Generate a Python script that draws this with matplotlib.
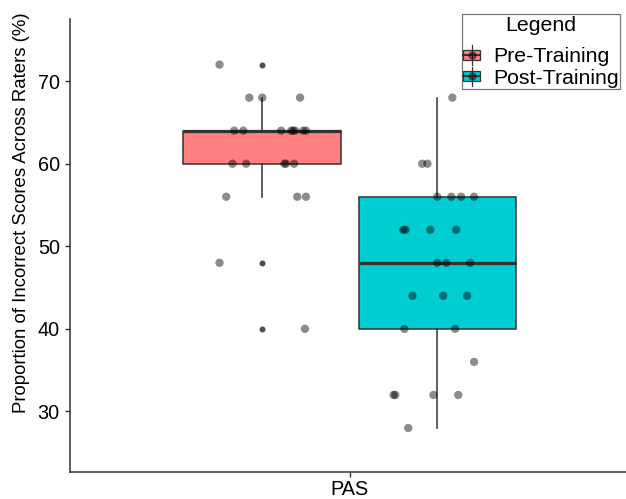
import matplotlib
matplotlib.use("Agg")
import matplotlib.pyplot as plt
from matplotlib.legend_handler import HandlerBase
from matplotlib.patches import Patch, Rectangle
from matplotlib.lines import Line2D

plt.rcParams['font.family'] = ['Liberation Sans', 'DejaVu Sans']

# ---- data ----
category = "PAS"
groups = ["Pre-Training", "Post-Training"]
colors = ["#FF8080", "#00CDD2"]

pre_values = [72, 68, 68, 68,
              64, 64, 64, 64, 64, 64, 64, 64,
              60, 60, 60, 60, 60,
              56, 56, 56, 48, 40]
pre_jitter = [-0.122, -0.037, 0.0, 0.108,
              -0.080, -0.054, 0.054, 0.083, 0.088, 0.094, 0.117, 0.125,
              -0.085, -0.046, 0.063, 0.068, 0.091,
              -0.103, 0.100, 0.125, -0.122, 0.122]

post_values = [68, 60, 60, 56, 56, 56, 56,
               52, 52, 52, 52, 48, 48, 48,
               44, 44, 44, 40, 40, 36,
               32, 32, 32, 32, 28]
post_jitter = [0.043, -0.043, -0.028, 0.0, 0.040, 0.068, 0.105,
               -0.097, -0.091, -0.020, 0.054, 0.0, 0.026, 0.094,
               -0.071, 0.017, 0.085, -0.094, 0.051, 0.105,
               -0.125, -0.120, -0.011, 0.060, -0.083]

y_ticks = [30, 40, 50, 60, 70]

# ---- layout ----
W, H = 626, 499
fig = plt.figure(figsize=(W / 100, H / 100), dpi=100)
ax = fig.add_axes([69.5 / W, 1 - 471.5 / H, 1 - 69.5 / W, (471.5 - 19) / H])

cat_pos = 1.0
dodge = 0.25
box_pos = [cat_pos - dodge, cat_pos + dodge]
box_w = 0.45
edge = "#333333"

data = [pre_values, post_values]
bp = ax.boxplot(data, positions=box_pos, widths=box_w, patch_artist=True,
                whis=1.5, showcaps=False, manage_ticks=False,
                medianprops=dict(color=edge, linewidth=2.3),
                whiskerprops=dict(color=edge, linewidth=1.1),
                boxprops=dict(edgecolor=edge, linewidth=1.1),
                flierprops=dict(marker='o', markersize=4.3,
                                markerfacecolor='#3a3a3a', markeredgecolor='none',
                                alpha=0.9),
                zorder=2)
for patch, c in zip(bp['boxes'], colors):
    patch.set_facecolor(c)

for pos, vals, jit in zip(box_pos, data, [pre_jitter, post_jitter]):
    xs = [pos + j for j in jit]
    ax.scatter(xs, vals, s=36, color='black', alpha=0.45, edgecolors='none', zorder=3)

ax.set_xlim(0.1994, 1.789)
ax.set_ylim(22.73, 77.52)
ax.set_xticks([cat_pos])
ax.set_xticklabels([category])
ax.set_yticks(y_ticks)
ax.tick_params(axis='both', labelsize=14.3, length=3.4, width=1, color=edge,
               labelcolor='black')
ax.tick_params(axis='y', pad=3.6)
ax.tick_params(axis='x', pad=2.5)
for s in ['top', 'right']:
    ax.spines[s].set_visible(False)
for s in ['left', 'bottom']:
    ax.spines[s].set_color(edge)
    ax.spines[s].set_linewidth(1.1)

ax.set_ylabel("Proportion of Incorrect Scores Across Raters (%)", fontsize=13.4)
ax.yaxis.label.set_verticalalignment('center')
ax.yaxis.set_label_coords(22 / W, 1 - 212.5 / H, transform=fig.transFigure)


class BoxHandler(HandlerBase):
    def create_artists(self, legend, orig_handle, xdescent, ydescent,
                       width, height, fontsize, trans):
        fc = orig_handle.get_facecolor()
        x0, y0 = -xdescent, -ydescent
        cx = x0 + width / 2
        vline = Line2D([cx, cx], [y0 - 0.05 * height, y0 + 1.05 * height],
                       color=edge, lw=0.9, transform=trans)
        rect = Rectangle((x0, y0 + 0.22 * height), width, 0.56 * height,
                         facecolor=fc, edgecolor=edge, lw=0.9, transform=trans)
        mline = Line2D([x0, x0 + width], [y0 + 0.5 * height] * 2,
                       color=edge, lw=1.4, transform=trans)
        dot = Line2D([cx], [y0 + 0.5 * height], marker='o', markersize=5,
                     color='black', alpha=0.45, lw=0, transform=trans)
        return [rect, vline, mline, dot]


handles = [Patch(facecolor=c, edgecolor=edge) for c in colors]
leg = ax.legend(handles, groups, title="Legend", loc='upper left',
                bbox_to_anchor=(461.7 / W, 1 - 14.3 / H),
                bbox_transform=fig.transFigure, borderaxespad=0,
                fontsize=15.3, title_fontsize=15.3, frameon=True, fancybox=False,
                handler_map={Patch: BoxHandler()}, handlelength=0.8,
                handleheight=0.9, handletextpad=0.6, labelspacing=0.06,
                borderpad=0.08)
# extra gap between the legend title and its entries
leg._legend_box.sep = 8.0
leg.get_frame().set_edgecolor('#555555')
leg.get_frame().set_linewidth(0.9)

fig.savefig("out.png", dpi=100)
